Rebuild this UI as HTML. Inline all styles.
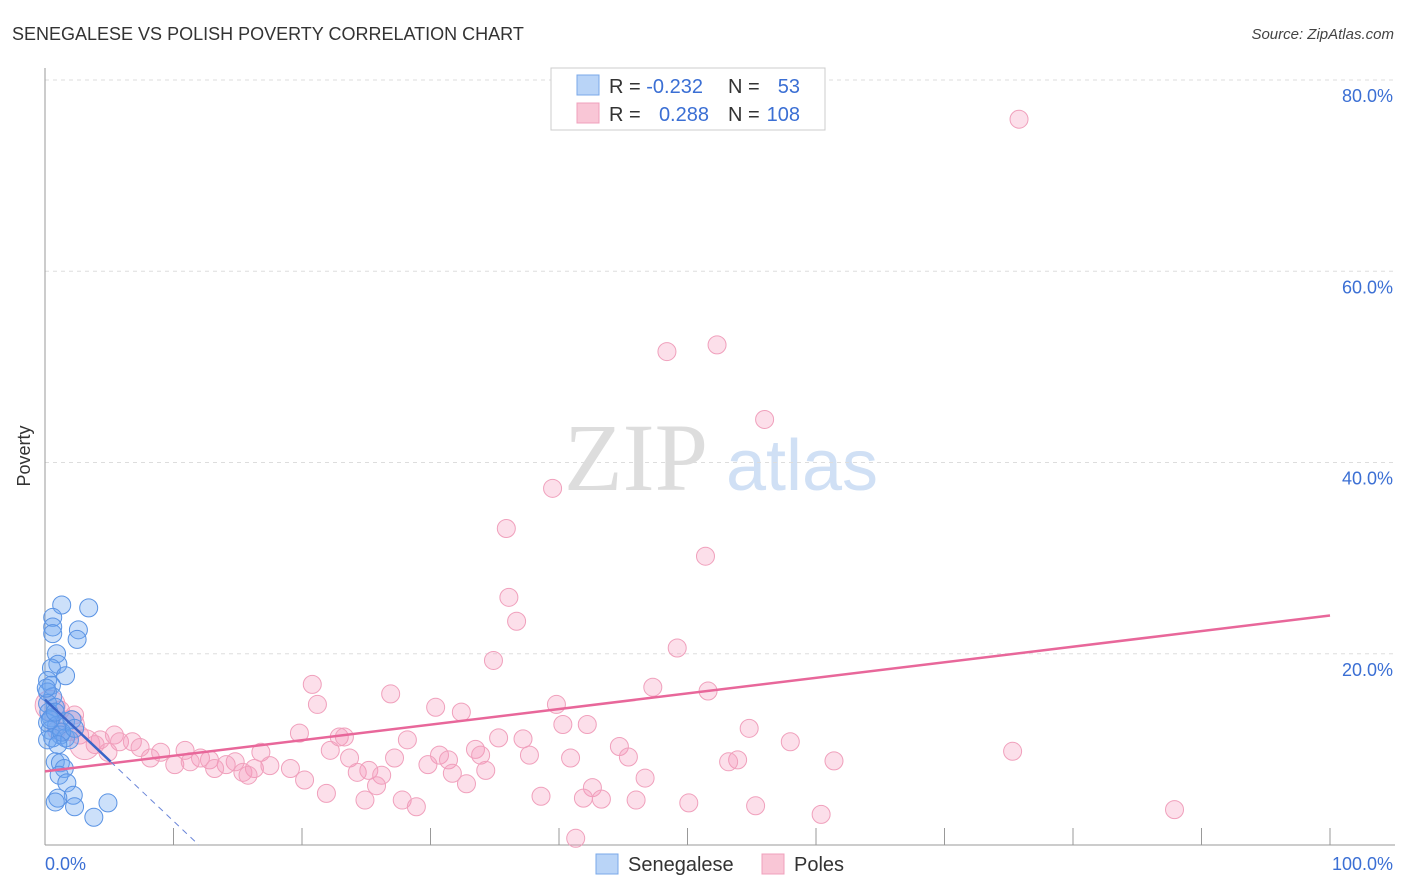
<!DOCTYPE html>
<html><head><meta charset="utf-8"><style>
body{margin:0;background:#fff;font-family:"Liberation Sans",sans-serif;}
svg{display:block}
</style></head><body>
<svg width="1406" height="892" xmlns="http://www.w3.org/2000/svg">
<text x="12" y="40" font-size="18" fill="#333">SENEGALESE VS POLISH POVERTY CORRELATION CHART</text>
<text x="1394" y="39" font-size="15" fill="#444" text-anchor="end" font-style="italic">Source: ZipAtlas.com</text>
<text x="30" y="456" font-size="18" fill="#333" text-anchor="middle" transform="rotate(-90 30 456)">Poverty</text>
<g>
<text x="636" y="490" font-size="96" fill="#ddd" text-anchor="middle" font-family="Liberation Serif,serif">ZIP</text>
<text x="802" y="490" font-size="72" fill="#d0e0f5" text-anchor="middle">atlas</text>
</g>
<g id="grid"></g>
<g id="axes"></g>
<g id="marks"></g>
<g>
<rect x="551" y="68" width="274" height="62" fill="#fff" stroke="#ccc"/>
<rect x="577" y="75" width="22" height="20" fill="#b9d4f7" stroke="#7aa8e8"/>
<rect x="577" y="103" width="22" height="20" fill="#f9c6d6" stroke="#f0a0bc"/>
<text x="609" y="93" font-size="20" fill="#333">R = <tspan fill="#3b6fd4">-0.232</tspan></text>
<text x="728" y="93" font-size="20" fill="#333">N = </text><text x="800" y="93" font-size="20" fill="#3b6fd4" text-anchor="end">53</text>
<text x="609" y="121" font-size="20" fill="#333">R = </text><text x="709" y="121" font-size="20" fill="#3b6fd4" text-anchor="end">0.288</text>
<text x="728" y="121" font-size="20" fill="#333">N = </text><text x="800" y="121" font-size="20" fill="#3b6fd4" text-anchor="end">108</text>
</g>
<g>
<rect x="596" y="854" width="22" height="20" fill="#b9d4f7" stroke="#7aa8e8"/>
<text x="628" y="871" font-size="20" fill="#333">Senegalese</text>
<rect x="762" y="854" width="22" height="20" fill="#f9c6d6" stroke="#f0a0bc"/>
<text x="794" y="871" font-size="20" fill="#333">Poles</text>
</g>
</svg>
<script>
const yTicks=[20,40,60,80];
const yTickLabels=["20.0%","40.0%","60.0%","80.0%"];
const xEndLabels=["0.0%","100.0%"];
const blueX=[1.3,3.4,0.6,0.6,2.6,2.5,0.6,0.9,1.0,0.5,1.6,0.2,0.5,0.2,0.6,0.2,0.8,0.3,0.5,0.2,0.9,1.6,2.1,0.4,1.2,0.6,1.6,0.2,1.9,1.3,0.8,1.2,1.5,1.1,1.7,2.2,1.0,0.8,2.3,3.8,4.9,0.4,0.8,0.1,1.0,2.3];
const blueY=[25.1,24.8,23.8,22.8,22.5,21.5,22.1,20.0,18.9,18.5,17.7,17.2,16.7,16.0,15.5,14.8,14.4,13.9,13.3,12.8,12.5,12.9,13.1,12.0,11.5,11.2,11.2,11.0,11.0,11.8,8.7,8.6,8.0,7.3,6.5,5.2,4.9,4.5,4.0,2.9,4.4,13.1,13.9,16.4,10.5,12.2];
const pinkX=[75.8,48.4,52.3,56.0,39.5,35.9,51.4,36.1,36.7,34.9,49.2,20.8,47.3,51.6,26.9,21.2,39.8,30.4,32.4,40.3,42.2,54.8,19.8,22.9,23.3,28.2,35.3,37.2,58.0,44.7,75.3,33.5,10.9,16.8,22.2,30.7,33.9,37.7,23.7,27.2,40.9,45.4,8.2,9.0,12.1,12.8,14.8,14.1,29.8,31.4,53.9,53.2,61.4,10.1,11.3,13.2,16.3,17.5,19.1,15.4,15.8,24.3,25.2,26.2,31.7,34.3,20.2,46.7,25.8,32.8,42.6,21.9,38.6,24.9,27.8,41.9,43.3,46.0,28.9,50.1,55.3,60.4,87.9,41.3,1.2,4.3,5.4,5.8,6.8,7.4,4.9,3.9,2.3,0.9,2.7];
const pinkY=[75.9,51.6,52.3,44.5,37.3,33.1,30.2,25.9,23.4,19.3,20.6,16.8,16.5,16.1,15.8,14.7,14.7,14.4,13.9,12.6,12.6,12.2,11.7,11.3,11.3,11.0,11.2,11.1,10.8,10.3,9.8,10.0,9.9,9.7,9.9,9.4,9.4,9.4,9.1,9.1,9.1,9.2,9.1,9.7,9.1,8.9,8.7,8.4,8.4,8.9,8.9,8.7,8.8,8.4,8.7,8.0,8.0,8.3,8.0,7.6,7.3,7.6,7.8,7.3,7.5,7.8,6.8,7.0,6.2,6.4,6.0,5.4,5.1,4.7,4.7,4.9,4.8,4.7,4.0,4.4,4.1,3.2,3.7,0.7,14.1,11.0,11.5,10.8,10.8,10.2,9.7,10.5,13.6,12.0,11.5];
const pinkBigX=[0.4,1.9,3.1];
const pinkBigY=[14.6,12.5,10.5];
const pinkTrend=[7.7,24.0];
const blueTrend=[15.2,-1.27];
const NS="http://www.w3.org/2000/svg";
const X0=45,X1=1330,Y0=845,YP=80,YV=80;
const sx=v=>X0+(X1-X0)*v/100;
const sy=v=>Y0-(Y0-YP)*v/YV;
function mk(tag,attrs,parent){const e=document.createElementNS(NS,tag);for(const k in attrs)e.setAttribute(k,attrs[k]);parent.appendChild(e);return e;}
const grid=document.getElementById('grid'),axes=document.getElementById('axes'),marks=document.getElementById('marks');
yTicks.forEach((t,i)=>{
 const l=mk('line',{x1:X0,x2:1395,y1:sy(t),y2:sy(t),stroke:'#ddd','stroke-dasharray':'4,4'},grid);
 
 
 const tx=mk('text',{x:1393,y:sy(t)+22,'font-size':18,fill:'#3b6fd4','text-anchor':'end'},axes);
 tx.textContent=yTickLabels[i];
 
 
});
const ax=mk('line',{x1:X0,x2:X0,y1:68,y2:Y0,stroke:'#999'},axes);


const bx=mk('line',{x1:X0,x2:1395,y1:Y0,y2:Y0,stroke:'#999'},axes);


for(let i=0;i<=10;i++){const t=mk('line',{x1:sx(i*10),x2:sx(i*10),y1:828,y2:Y0,stroke:'#999'},axes);
 
 }
[[0,'start',X0],[1,'end',1393]].forEach(([i,a,x])=>{const t=mk('text',{x:x,y:870,'font-size':18,fill:'#3b6fd4','text-anchor':a},axes);t.textContent=xEndLabels[i];
 
 });
function pts(xs,ys,r,fill,stroke,name){xs.forEach((x,i)=>{const c=mk('circle',{cx:sx(x),cy:sy(ys[i]),r:r,fill:fill,stroke:stroke,'stroke-width':1},marks);
 
 });}
pts(pinkX,pinkY,9,'rgba(245,150,185,0.3)','#f0a0bc','poles-point');
pts(pinkBigX,pinkBigY,15,'rgba(245,150,185,0.3)','#f0a0bc','poles-point');
pts(blueX,blueY,9,'rgba(110,165,240,0.35)','#5a93e4','senegalese-point');
const pl=mk('line',{x1:sx(0),y1:sy(pinkTrend[0]),x2:sx(100),y2:sy(pinkTrend[1]),stroke:'#e8679a','stroke-width':2.5},marks);


const bEnd=5.1,bZero=-blueTrend[0]/blueTrend[1];
const bl=mk('line',{x1:sx(0),y1:sy(blueTrend[0]),x2:sx(bEnd),y2:sy(blueTrend[0]+blueTrend[1]*bEnd),stroke:'#3a64c8','stroke-width':2.5},marks);


const bd=mk('line',{x1:sx(bEnd),y1:sy(blueTrend[0]+blueTrend[1]*bEnd),x2:sx(bZero),y2:sy(0),stroke:'#6a85d8','stroke-width':1,'stroke-dasharray':'6,5'},marks);


</script>
</body></html>
